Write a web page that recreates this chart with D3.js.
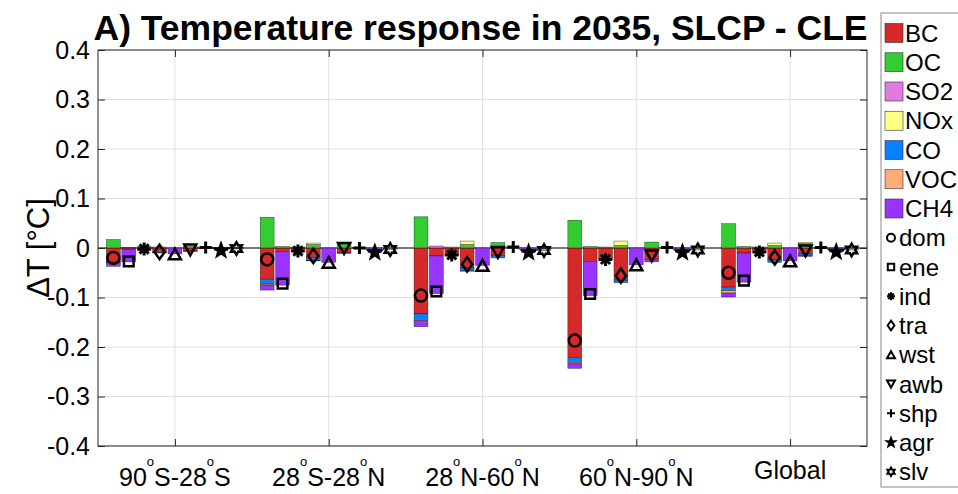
<!DOCTYPE html>
<html>
<head>
<meta charset="utf-8">
<script src="https://cdn.jsdelivr.net/npm/d3@7"></script>
<style>
  body { margin: 0; background: #fff; }
  text { font-family: "Liberation Sans", Arial, Helvetica, sans-serif; fill: #000; }
</style>
</head>
<body>
<div id="app"></div>
<script>
const regions = ['90^oS-28^oS', '28^oS-28^oN', '28^oN-60^oN', '60^oN-90^oN', 'Global'];
const sectors = ['dom', 'ene', 'ind', 'tra', 'wst', 'awb', 'shp', 'agr', 'slv'];
const species = ['BC', 'OC', 'SO2', 'NOx', 'CO', 'VOC', 'CH4'];
const yTicks = [-0.4, -0.3, -0.2, -0.1, 0, 0.1, 0.2, 0.3, 0.4];

// rows = regions, columns = sectors (dom ene ind tra wst awb shp agr slv)
const BC = [
  [-0.027, -0.003, -0.005, -0.009, 0, -0.006, -0.001, 0, 0],
  [-0.063, -0.007, -0.008, -0.019, 0, -0.010, -0.001, 0, 0],
  [-0.133, -0.016, -0.016, -0.040, 0, -0.015, 0, 0, 0],
  [-0.221, -0.027, -0.025, -0.065, 0, -0.023, 0, 0, 0],
  [-0.079, -0.010, -0.010, -0.024, 0, -0.012, 0, 0, 0]
];
const OC = [
  [0.017, 0, 0.001, 0.002, 0, 0.003, 0, 0, 0.001],
  [0.062, 0.003, 0.002, 0.007, 0, 0.009, 0, 0, 0],
  [0.063, 0, 0.002, 0.007, 0, 0.011, 0, 0, 0],
  [0.056, 0.003, 0.002, 0.005, 0, 0.012, 0, 0, 0],
  [0.049, 0.003, 0.002, 0.005, 0, 0.009, 0, 0, 0]
];
const SO2 = [
  [0, 0.001, 0.002, 0, 0, 0, 0.002, 0, 0],
  [0, 0, 0, 0, 0, 0, 0.001, 0, 0],
  [0, 0.004, 0, 0, 0, 0, 0.002, 0, 0],
  [0, 0, 0, 0, 0, 0, 0.001, 0, 0],
  [0, 0, 0, 0, 0, 0, 0.001, 0, 0]
];
const NOx = [
  [0, 0, 0, 0, 0, 0, 0, 0, 0],
  [0, 0, 0, 0.003, 0, 0.001, 0, 0, 0],
  [0, 0, 0, 0.007, 0, 0, 0, 0, 0],
  [0, 0, 0, 0.009, 0, 0, 0, 0, 0],
  [0, 0, 0, 0.005, 0, 0.002, 0, 0, 0]
];
const CO = [
  [-0.002, 0, 0, -0.001, 0, 0, 0, 0, -0.001],
  [-0.010, 0, 0, -0.006, 0, -0.001, 0, 0, -0.001],
  [-0.011, 0, 0, -0.006, 0, -0.005, 0, 0, -0.002],
  [-0.010, 0, 0, -0.005, 0, 0, 0, 0, -0.001],
  [-0.007, 0, 0, -0.005, 0, -0.003, 0, 0, -0.001]
];
const VOC = [
  [-0.001, 0, 0, 0, 0, 0, 0, 0, -0.001],
  [-0.002, 0, 0, 0, 0, 0, 0, 0, -0.002],
  [-0.003, 0, 0, -0.001, 0, 0, 0, 0, -0.003],
  [-0.003, 0, 0, 0, 0, 0, 0, 0, -0.003],
  [-0.005, 0, 0, 0, 0, 0, 0, 0, -0.003]
];
const CH4 = [
  [-0.007, -0.025, 0, 0, -0.012, -0.001, 0, -0.005, 0],
  [-0.010, -0.068, 0, -0.001, -0.029, 0, 0, -0.009, 0],
  [-0.012, -0.076, 0, 0, -0.035, 0, 0, -0.009, 0],
  [-0.009, -0.069, 0, 0, -0.034, -0.005, 0, -0.009, 0],
  [-0.008, -0.059, 0, 0, -0.026, -0.002, 0, -0.008, 0]
];

const speciesData = { BC, OC, SO2, NOx, CO, VOC, CH4 };
const colors = ['#d62a2a', '#33cc33', '#e07be0', '#ffff80', '#0a80ff', '#ffab78', '#9933ff'];
const markers = ['circle', 'square', 'asterisk', 'diamond', 'triUp', 'triDown', 'plus', 'star', 'hexagram'];

let width = 958, height = 494;
let margin = { top: 50, left: 98, bottom: 48, right: 91 };
let w = width - margin.left - margin.right;
let h = height - margin.top - margin.bottom;

// one row per region x sector
let rows = [];
regions.forEach((r, ri) => {
  sectors.forEach((s, si) => {
    let row = { region: ri, sector: si };
    species.forEach(k => { row[k] = speciesData[k][ri][si]; });
    row.net = d3.sum(species, k => row[k]);
    rows.push(row);
  });
});

let xScale = d3.scaleLinear().domain([0.5, regions.length + 0.5]).range([0, w]);
let yScale = d3.scaleLinear().domain([-0.4, 0.4]).range([h, 0]);
let barPos = d => d.region + 1 + (d.sector - 4) * 0.1;
let barW = xScale(0.09) - xScale(0);

let svg = d3.select('#app').append('svg')
  .attr('width', width).attr('height', height)
  .style('background', '#fff');

let g = svg.append('g').attr('transform', 'translate(' + margin.left + ',' + margin.top + ')');

// grid
g.append('g').selectAll('line').data(yTicks).join('line')
  .attr('x1', 0).attr('x2', w)
  .attr('y1', d => yScale(d)).attr('y2', d => yScale(d))
  .attr('stroke', '#e0e0e0').attr('stroke-width', 1);
g.append('g').selectAll('line').data(regions.map((d, i) => i + 1)).join('line')
  .attr('x1', d => xScale(d)).attr('x2', d => xScale(d))
  .attr('y1', 0).attr('y2', h)
  .attr('stroke', '#e0e0e0').attr('stroke-width', 1);

// baseline
g.append('line').attr('x1', 0).attr('x2', w)
  .attr('y1', yScale(0)).attr('y2', yScale(0))
  .attr('stroke', '#000').attr('stroke-width', 1);

// stacked bars
let stack = d3.stack().keys(species).offset(d3.stackOffsetDiverging);
let layers = stack(rows);

g.append('g').selectAll('g').data(layers).join('g')
  .attr('fill', (d, i) => colors[i])
  .selectAll('rect').data(d => d.filter(p => p[1] !== p[0])).join('rect')
  .attr('x', d => xScale(barPos(d.data)) - barW / 2)
  .attr('width', barW)
  .attr('y', d => yScale(d[1]))
  .attr('height', d => yScale(d[0]) - yScale(d[1]))
  .attr('stroke', '#000').attr('stroke-width', 0.5).attr('stroke-opacity', 0.7);

// marker shapes
function markerPath(type, s) {
  let p = d3.path();
  if (type === 'circle') {
    p.moveTo(s, 0); p.arc(0, 0, s, 0, 2 * Math.PI);
  } else if (type === 'square') {
    p.rect(-s * 0.8, -s * 0.8, s * 1.6, s * 1.6);
  } else if (type === 'asterisk') {
    for (let a = 0; a < 4; a++) {
      let t = a * Math.PI / 4;
      p.moveTo(-s * Math.cos(t), -s * Math.sin(t));
      p.lineTo(s * Math.cos(t), s * Math.sin(t));
    }
  } else if (type === 'diamond') {
    p.moveTo(0, -s * 1.2); p.lineTo(s * 0.85, 0); p.lineTo(0, s * 1.2); p.lineTo(-s * 0.85, 0); p.closePath();
  } else if (type === 'triUp') {
    p.moveTo(0, -s * 0.9); p.lineTo(s, s * 0.9); p.lineTo(-s, s * 0.9); p.closePath();
  } else if (type === 'triDown') {
    p.moveTo(0, s * 0.9); p.lineTo(s, -s * 0.9); p.lineTo(-s, -s * 0.9); p.closePath();
  } else if (type === 'plus') {
    p.moveTo(-s, 0); p.lineTo(s, 0); p.moveTo(0, -s); p.lineTo(0, s);
  } else if (type === 'star') {
    for (let k = 0; k < 10; k++) {
      let r = k % 2 ? s * 0.45 : s * 1.1;
      let t = -Math.PI / 2 + k * Math.PI / 5;
      if (k === 0) p.moveTo(r * Math.cos(t), r * Math.sin(t));
      else p.lineTo(r * Math.cos(t), r * Math.sin(t));
    }
    p.closePath();
  } else if (type === 'hexagram') {
    for (let k = 0; k < 12; k++) {
      let r = k % 2 ? s * 0.6 : s * 1.05;
      let t = -Math.PI / 2 + k * Math.PI / 6;
      if (k === 0) p.moveTo(r * Math.cos(t), r * Math.sin(t));
      else p.lineTo(r * Math.cos(t), r * Math.sin(t));
    }
    p.closePath();
  }
  return p.toString();
}

let markerWidth = t => t === 'asterisk' || t === 'plus' ? 3 : 2.5;

g.append('g').selectAll('path').data(rows).join('path')
  .attr('transform', d => 'translate(' + xScale(barPos(d)) + ',' + yScale(d.net) + ')')
  .attr('d', d => markerPath(markers[d.sector], markers[d.sector] === 'asterisk' ? 6.5 : 6))
  .attr('fill', d => markers[d.sector] === 'star' ? '#000' : 'none')
  .attr('stroke', '#000').attr('stroke-width', d => markerWidth(markers[d.sector]))
  .attr('stroke-linejoin', 'miter');

// axes (inward ticks, box)
let fmt = d => d === 0 ? '0' : String(+d.toFixed(1));
let yAxis = d3.axisLeft(yScale).tickValues(yTicks).tickFormat(fmt).tickSizeInner(-7).tickSizeOuter(0).tickPadding(8);
let yAxisR = d3.axisRight(yScale).tickValues(yTicks).tickFormat('').tickSizeInner(-7).tickSizeOuter(0);
let xTicks = regions.map((d, i) => i + 1);
let xAxis = d3.axisBottom(xScale).tickValues(xTicks).tickFormat('').tickSizeInner(-7).tickSizeOuter(0);
let xAxisT = d3.axisTop(xScale).tickValues(xTicks).tickFormat('').tickSizeInner(-7).tickSizeOuter(0);

let yg = g.append('g').call(yAxis);
g.append('g').attr('transform', 'translate(' + w + ',0)').call(yAxisR);
g.append('g').attr('transform', 'translate(0,' + h + ')').call(xAxis);
g.append('g').call(xAxisT);
g.selectAll('.domain').remove();
g.selectAll('.tick line').attr('stroke', '#262626');
yg.selectAll('text').style('font-size', '25px').attr('fill', '#262626')
  .style('font-family', '"Liberation Sans", Arial, sans-serif');

g.append('rect').attr('x', 0).attr('y', 0).attr('width', w).attr('height', h)
  .attr('fill', 'none').attr('stroke', '#262626').attr('stroke-width', 1);

// x tick labels with superscript degree
regions.forEach((lab, i) => {
  let parts = lab.split('^o');
  let t = g.append('text')
    .attr('x', xScale(i + 1))
    .attr('y', h + (parts.length > 1 ? 40 : 33))
    .attr('text-anchor', 'middle')
    .style('font-size', '25px').attr('fill', '#262626');
  parts.forEach((p, j) => {
    if (j > 0) {
      t.append('tspan').attr('dy', -20).style('font-size', '13px').text('o');
      t.append('tspan').attr('dy', 20).text(p);
    } else {
      t.append('tspan').text(p);
    }
  });
});

// y label
svg.append('text')
  .attr('transform', 'translate(49,' + (margin.top + h / 2) + ') rotate(-90)')
  .attr('text-anchor', 'middle')
  .style('font-size', '31px')
  .text('\u0394T [\u00B0C]');

// title
svg.append('text')
  .attr('x', margin.left + w / 2 - 2).attr('y', 40)
  .attr('text-anchor', 'middle')
  .style('font-size', '35.5px').style('font-weight', 'bold')
  .text('A) Temperature response in 2035, SLCP - CLE');

// legend
let lg = svg.append('g');
lg.append('rect').attr('x', 881).attr('y', 13).attr('width', 100).attr('height', 474)
  .attr('fill', '#fff').attr('stroke', '#8a8a8a').attr('stroke-width', 1);
let ly = i => 33 + i * 29.25;
species.forEach((k, i) => {
  lg.append('rect').attr('x', 885).attr('y', ly(i) - 9.5).attr('width', 18).attr('height', 19)
    .attr('fill', colors[i]).attr('stroke', '#333').attr('stroke-width', 0.6);
  lg.append('text').attr('x', 905).attr('y', ly(i)).attr('dy', '0.36em')
    .style('font-size', '24px').text(k);
});
sectors.forEach((s, j) => {
  let i = species.length + j;
  lg.append('path')
    .attr('transform', 'translate(891,' + ly(i) + ')')
    .attr('d', markerPath(markers[j], 4))
    .attr('fill', markers[j] === 'star' ? '#000' : 'none')
    .attr('stroke', '#000').attr('stroke-width', 2);
  lg.append('text').attr('x', 899).attr('y', ly(i)).attr('dy', '0.36em')
    .style('font-size', '24px').text(s);
});
</script>
</body>
</html>
